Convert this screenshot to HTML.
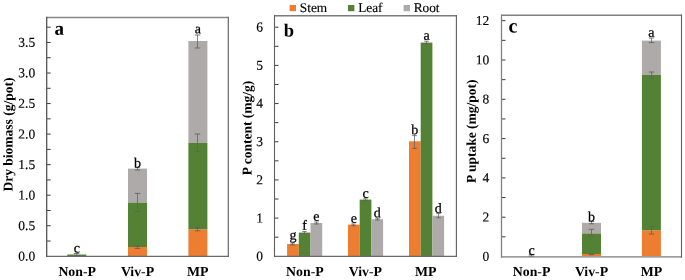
<!DOCTYPE html>
<html><head><meta charset="utf-8"><style>
html,body{margin:0;padding:0;background:#fff;width:685px;height:280px;overflow:hidden}
svg{display:block;will-change:transform}
text{font-family:"Liberation Serif",serif;fill:#000}
.tl{font-size:13.5px;fill:#000;stroke:#000;stroke-width:0.15px}
.pl{font-size:18px;font-weight:bold}
.sg{font-size:14px;fill:#000;stroke:#000;stroke-width:0.25px}
.xl{font-size:13.8px;font-weight:bold}
.yt{font-size:13.5px;font-weight:bold}
.lg{font-size:13.3px;fill:#000;stroke:#000;stroke-width:0.15px}
</style></head><body>
<svg width="685" height="280" viewBox="0 0 685 280">
<rect x="67.30" y="254.50" width="19.00" height="1.80" fill="#548235"/>
<rect x="128.00" y="247.00" width="19.00" height="9.30" fill="#ED7D31"/>
<rect x="128.00" y="202.40" width="19.00" height="44.60" fill="#548235"/>
<rect x="128.00" y="168.60" width="19.00" height="33.80" fill="#AEAAAA"/>
<rect x="188.40" y="229.30" width="19.00" height="27.00" fill="#ED7D31"/>
<rect x="188.40" y="143.00" width="19.00" height="86.30" fill="#548235"/>
<rect x="188.40" y="41.00" width="19.00" height="102.00" fill="#AEAAAA"/>
<line x1="46.70" y1="241.03" x2="50.70" y2="241.03" stroke="#3c3c3c" stroke-width="1.0"/>
<line x1="46.70" y1="225.75" x2="50.70" y2="225.75" stroke="#3c3c3c" stroke-width="1.0"/>
<line x1="46.70" y1="210.48" x2="50.70" y2="210.48" stroke="#3c3c3c" stroke-width="1.0"/>
<line x1="46.70" y1="195.20" x2="50.70" y2="195.20" stroke="#3c3c3c" stroke-width="1.0"/>
<line x1="46.70" y1="179.93" x2="50.70" y2="179.93" stroke="#3c3c3c" stroke-width="1.0"/>
<line x1="46.70" y1="164.65" x2="50.70" y2="164.65" stroke="#3c3c3c" stroke-width="1.0"/>
<line x1="46.70" y1="149.38" x2="50.70" y2="149.38" stroke="#3c3c3c" stroke-width="1.0"/>
<line x1="46.70" y1="134.10" x2="50.70" y2="134.10" stroke="#3c3c3c" stroke-width="1.0"/>
<line x1="46.70" y1="118.83" x2="50.70" y2="118.83" stroke="#3c3c3c" stroke-width="1.0"/>
<line x1="46.70" y1="103.55" x2="50.70" y2="103.55" stroke="#3c3c3c" stroke-width="1.0"/>
<line x1="46.70" y1="88.28" x2="50.70" y2="88.28" stroke="#3c3c3c" stroke-width="1.0"/>
<line x1="46.70" y1="73.00" x2="50.70" y2="73.00" stroke="#3c3c3c" stroke-width="1.0"/>
<line x1="46.70" y1="57.72" x2="50.70" y2="57.72" stroke="#3c3c3c" stroke-width="1.0"/>
<line x1="46.70" y1="42.45" x2="50.70" y2="42.45" stroke="#3c3c3c" stroke-width="1.0"/>
<line x1="46.70" y1="27.18" x2="50.70" y2="27.18" stroke="#3c3c3c" stroke-width="1.0"/>
<text x="35.20" y="260.60" text-anchor="end" class="tl" transform="rotate(0.05 35.20 260.60)">0.0</text>
<text x="35.20" y="230.05" text-anchor="end" class="tl" transform="rotate(0.05 35.20 230.05)">0.5</text>
<text x="35.20" y="199.50" text-anchor="end" class="tl" transform="rotate(0.05 35.20 199.50)">1.0</text>
<text x="35.20" y="168.95" text-anchor="end" class="tl" transform="rotate(0.05 35.20 168.95)">1.5</text>
<text x="35.20" y="138.40" text-anchor="end" class="tl" transform="rotate(0.05 35.20 138.40)">2.0</text>
<text x="35.20" y="107.85" text-anchor="end" class="tl" transform="rotate(0.05 35.20 107.85)">2.5</text>
<text x="35.20" y="77.30" text-anchor="end" class="tl" transform="rotate(0.05 35.20 77.30)">3.0</text>
<text x="35.20" y="46.75" text-anchor="end" class="tl" transform="rotate(0.05 35.20 46.75)">3.5</text>
<line x1="46.70" y1="17.60" x2="228.30" y2="17.60" stroke="#888" stroke-width="1.5"/>
<line x1="46.70" y1="256.40" x2="228.30" y2="256.40" stroke="#6a6a6a" stroke-width="1.2"/>
<line x1="46.70" y1="16.85" x2="46.70" y2="257.00" stroke="#555" stroke-width="1.3"/>
<line x1="228.30" y1="16.85" x2="228.30" y2="257.00" stroke="#666" stroke-width="1.2"/>
<line x1="76.50" y1="253.50" x2="76.50" y2="255.50" stroke="#606060" stroke-width="0.75"/>
<line x1="73.75" y1="253.50" x2="79.25" y2="253.50" stroke="#606060" stroke-width="0.85"/>
<line x1="73.75" y1="255.50" x2="79.25" y2="255.50" stroke="#606060" stroke-width="0.85"/>
<text x="76.80" y="252.60" text-anchor="middle" class="sg" transform="rotate(0.05 76.80 252.60)">c</text>
<line x1="137.50" y1="245.60" x2="137.50" y2="248.40" stroke="#606060" stroke-width="0.75"/>
<line x1="134.75" y1="245.60" x2="140.25" y2="245.60" stroke="#606060" stroke-width="0.85"/>
<line x1="134.75" y1="248.40" x2="140.25" y2="248.40" stroke="#606060" stroke-width="0.85"/>
<line x1="137.50" y1="193.40" x2="137.50" y2="211.60" stroke="#606060" stroke-width="0.75"/>
<line x1="134.75" y1="193.40" x2="140.25" y2="193.40" stroke="#606060" stroke-width="0.85"/>
<line x1="134.75" y1="211.60" x2="140.25" y2="211.60" stroke="#606060" stroke-width="0.85"/>
<line x1="137.50" y1="167.20" x2="137.50" y2="170.00" stroke="#606060" stroke-width="0.75"/>
<line x1="134.75" y1="167.20" x2="140.25" y2="167.20" stroke="#606060" stroke-width="0.85"/>
<line x1="134.75" y1="170.00" x2="140.25" y2="170.00" stroke="#606060" stroke-width="0.85"/>
<text x="137.50" y="167.40" text-anchor="middle" class="sg" transform="rotate(0.05 137.50 167.40)">b</text>
<line x1="197.50" y1="227.60" x2="197.50" y2="230.80" stroke="#606060" stroke-width="0.75"/>
<line x1="194.75" y1="227.60" x2="200.25" y2="227.60" stroke="#606060" stroke-width="0.85"/>
<line x1="194.75" y1="230.80" x2="200.25" y2="230.80" stroke="#606060" stroke-width="0.85"/>
<line x1="197.50" y1="134.00" x2="197.50" y2="151.40" stroke="#606060" stroke-width="0.75"/>
<line x1="194.75" y1="134.00" x2="200.25" y2="134.00" stroke="#606060" stroke-width="0.85"/>
<line x1="194.75" y1="151.40" x2="200.25" y2="151.40" stroke="#606060" stroke-width="0.85"/>
<line x1="197.50" y1="35.00" x2="197.50" y2="48.00" stroke="#606060" stroke-width="0.75"/>
<line x1="194.75" y1="35.00" x2="200.25" y2="35.00" stroke="#606060" stroke-width="0.85"/>
<line x1="194.75" y1="48.00" x2="200.25" y2="48.00" stroke="#606060" stroke-width="0.85"/>
<text x="197.90" y="33.20" text-anchor="middle" class="sg" transform="rotate(0.05 197.90 33.20)">a</text>
<text x="54.50" y="34.80" text-anchor="start" class="pl" transform="rotate(0.05 54.50 34.80)" style="font-size:19px">a</text>
<rect x="287.10" y="244.00" width="11.70" height="12.30" fill="#ED7D31"/>
<rect x="298.80" y="232.60" width="11.70" height="23.70" fill="#548235"/>
<rect x="310.50" y="223.00" width="11.70" height="33.30" fill="#AEAAAA"/>
<rect x="348.00" y="224.60" width="11.70" height="31.70" fill="#ED7D31"/>
<rect x="359.70" y="199.60" width="11.70" height="56.70" fill="#548235"/>
<rect x="371.40" y="219.20" width="11.70" height="37.10" fill="#AEAAAA"/>
<rect x="409.00" y="141.30" width="11.70" height="115.00" fill="#ED7D31"/>
<rect x="420.70" y="42.60" width="11.70" height="213.70" fill="#548235"/>
<rect x="432.40" y="215.80" width="11.70" height="40.50" fill="#AEAAAA"/>
<line x1="274.50" y1="237.21" x2="278.50" y2="237.21" stroke="#3c3c3c" stroke-width="1.0"/>
<line x1="274.50" y1="218.12" x2="278.50" y2="218.12" stroke="#3c3c3c" stroke-width="1.0"/>
<line x1="274.50" y1="199.03" x2="278.50" y2="199.03" stroke="#3c3c3c" stroke-width="1.0"/>
<line x1="274.50" y1="179.93" x2="278.50" y2="179.93" stroke="#3c3c3c" stroke-width="1.0"/>
<line x1="274.50" y1="160.84" x2="278.50" y2="160.84" stroke="#3c3c3c" stroke-width="1.0"/>
<line x1="274.50" y1="141.75" x2="278.50" y2="141.75" stroke="#3c3c3c" stroke-width="1.0"/>
<line x1="274.50" y1="122.66" x2="278.50" y2="122.66" stroke="#3c3c3c" stroke-width="1.0"/>
<line x1="274.50" y1="103.57" x2="278.50" y2="103.57" stroke="#3c3c3c" stroke-width="1.0"/>
<line x1="274.50" y1="84.47" x2="278.50" y2="84.47" stroke="#3c3c3c" stroke-width="1.0"/>
<line x1="274.50" y1="65.38" x2="278.50" y2="65.38" stroke="#3c3c3c" stroke-width="1.0"/>
<line x1="274.50" y1="46.29" x2="278.50" y2="46.29" stroke="#3c3c3c" stroke-width="1.0"/>
<line x1="274.50" y1="27.20" x2="278.50" y2="27.20" stroke="#3c3c3c" stroke-width="1.0"/>
<text x="263.00" y="260.60" text-anchor="end" class="tl" transform="rotate(0.05 263.00 260.60)">0</text>
<text x="263.00" y="222.42" text-anchor="end" class="tl" transform="rotate(0.05 263.00 222.42)">1</text>
<text x="263.00" y="184.23" text-anchor="end" class="tl" transform="rotate(0.05 263.00 184.23)">2</text>
<text x="263.00" y="146.05" text-anchor="end" class="tl" transform="rotate(0.05 263.00 146.05)">3</text>
<text x="263.00" y="107.87" text-anchor="end" class="tl" transform="rotate(0.05 263.00 107.87)">4</text>
<text x="263.00" y="69.68" text-anchor="end" class="tl" transform="rotate(0.05 263.00 69.68)">5</text>
<text x="263.00" y="31.50" text-anchor="end" class="tl" transform="rotate(0.05 263.00 31.50)">6</text>
<line x1="274.50" y1="15.80" x2="456.40" y2="15.80" stroke="#7a7a7a" stroke-width="1.6"/>
<line x1="274.50" y1="256.40" x2="456.40" y2="256.40" stroke="#6a6a6a" stroke-width="1.2"/>
<line x1="274.50" y1="15.00" x2="274.50" y2="257.00" stroke="#5e5e5e" stroke-width="1.1"/>
<line x1="456.40" y1="15.00" x2="456.40" y2="257.00" stroke="#5e5e5e" stroke-width="1.1"/>
<line x1="292.50" y1="243.00" x2="292.50" y2="245.00" stroke="#606060" stroke-width="0.75"/>
<line x1="290.25" y1="243.00" x2="294.75" y2="243.00" stroke="#606060" stroke-width="0.85"/>
<line x1="290.25" y1="245.00" x2="294.75" y2="245.00" stroke="#606060" stroke-width="0.85"/>
<text x="292.95" y="239.60" text-anchor="middle" class="sg" transform="rotate(0.05 292.95 239.60)">g</text>
<line x1="304.50" y1="231.60" x2="304.50" y2="233.60" stroke="#606060" stroke-width="0.75"/>
<line x1="302.25" y1="231.60" x2="306.75" y2="231.60" stroke="#606060" stroke-width="0.85"/>
<line x1="302.25" y1="233.60" x2="306.75" y2="233.60" stroke="#606060" stroke-width="0.85"/>
<text x="304.65" y="229.70" text-anchor="middle" class="sg" transform="rotate(0.05 304.65 229.70)">f</text>
<line x1="316.50" y1="222.00" x2="316.50" y2="224.00" stroke="#606060" stroke-width="0.75"/>
<line x1="314.25" y1="222.00" x2="318.75" y2="222.00" stroke="#606060" stroke-width="0.85"/>
<line x1="314.25" y1="224.00" x2="318.75" y2="224.00" stroke="#606060" stroke-width="0.85"/>
<text x="316.35" y="220.80" text-anchor="middle" class="sg" transform="rotate(0.05 316.35 220.80)">e</text>
<line x1="353.50" y1="224.00" x2="353.50" y2="225.80" stroke="#606060" stroke-width="0.75"/>
<line x1="351.25" y1="224.00" x2="355.75" y2="224.00" stroke="#606060" stroke-width="0.85"/>
<line x1="351.25" y1="225.80" x2="355.75" y2="225.80" stroke="#606060" stroke-width="0.85"/>
<text x="353.85" y="222.70" text-anchor="middle" class="sg" transform="rotate(0.05 353.85 222.70)">e</text>
<line x1="365.50" y1="198.80" x2="365.50" y2="200.60" stroke="#606060" stroke-width="0.75"/>
<line x1="363.25" y1="198.80" x2="367.75" y2="198.80" stroke="#606060" stroke-width="0.85"/>
<line x1="363.25" y1="200.60" x2="367.75" y2="200.60" stroke="#606060" stroke-width="0.85"/>
<text x="365.55" y="197.70" text-anchor="middle" class="sg" transform="rotate(0.05 365.55 197.70)">c</text>
<line x1="377.50" y1="218.20" x2="377.50" y2="220.00" stroke="#606060" stroke-width="0.75"/>
<line x1="375.25" y1="218.20" x2="379.75" y2="218.20" stroke="#606060" stroke-width="0.85"/>
<line x1="375.25" y1="220.00" x2="379.75" y2="220.00" stroke="#606060" stroke-width="0.85"/>
<text x="377.25" y="217.20" text-anchor="middle" class="sg" transform="rotate(0.05 377.25 217.20)">d</text>
<line x1="414.50" y1="135.60" x2="414.50" y2="148.40" stroke="#606060" stroke-width="0.75"/>
<line x1="412.25" y1="135.60" x2="416.75" y2="135.60" stroke="#606060" stroke-width="0.85"/>
<line x1="412.25" y1="148.40" x2="416.75" y2="148.40" stroke="#606060" stroke-width="0.85"/>
<text x="414.85" y="134.20" text-anchor="middle" class="sg" transform="rotate(0.05 414.85 134.20)">b</text>
<line x1="426.50" y1="41.20" x2="426.50" y2="44.00" stroke="#606060" stroke-width="0.75"/>
<line x1="424.25" y1="41.20" x2="428.75" y2="41.20" stroke="#606060" stroke-width="0.85"/>
<line x1="424.25" y1="44.00" x2="428.75" y2="44.00" stroke="#606060" stroke-width="0.85"/>
<text x="426.55" y="39.80" text-anchor="middle" class="sg" transform="rotate(0.05 426.55 39.80)">a</text>
<line x1="438.50" y1="213.60" x2="438.50" y2="217.80" stroke="#606060" stroke-width="0.75"/>
<line x1="436.25" y1="213.60" x2="440.75" y2="213.60" stroke="#606060" stroke-width="0.85"/>
<line x1="436.25" y1="217.80" x2="440.75" y2="217.80" stroke="#606060" stroke-width="0.85"/>
<text x="438.25" y="212.80" text-anchor="middle" class="sg" transform="rotate(0.05 438.25 212.80)">d</text>
<text x="283.80" y="36.60" text-anchor="start" class="pl" transform="rotate(0.05 283.80 36.60)" style="font-size:18.5px">b</text>
<rect x="582.00" y="254.00" width="19.00" height="2.50" fill="#ED7D31"/>
<rect x="582.00" y="233.30" width="19.00" height="20.70" fill="#548235"/>
<rect x="582.00" y="222.80" width="19.00" height="10.50" fill="#AEAAAA"/>
<rect x="641.90" y="230.40" width="19.00" height="26.10" fill="#ED7D31"/>
<rect x="641.90" y="75.00" width="19.00" height="155.40" fill="#548235"/>
<rect x="641.90" y="40.60" width="19.00" height="34.40" fill="#AEAAAA"/>
<line x1="501.50" y1="236.85" x2="505.50" y2="236.85" stroke="#3c3c3c" stroke-width="1.0"/>
<line x1="501.50" y1="217.20" x2="505.50" y2="217.20" stroke="#3c3c3c" stroke-width="1.0"/>
<line x1="501.50" y1="197.55" x2="505.50" y2="197.55" stroke="#3c3c3c" stroke-width="1.0"/>
<line x1="501.50" y1="177.90" x2="505.50" y2="177.90" stroke="#3c3c3c" stroke-width="1.0"/>
<line x1="501.50" y1="158.25" x2="505.50" y2="158.25" stroke="#3c3c3c" stroke-width="1.0"/>
<line x1="501.50" y1="138.60" x2="505.50" y2="138.60" stroke="#3c3c3c" stroke-width="1.0"/>
<line x1="501.50" y1="118.95" x2="505.50" y2="118.95" stroke="#3c3c3c" stroke-width="1.0"/>
<line x1="501.50" y1="99.30" x2="505.50" y2="99.30" stroke="#3c3c3c" stroke-width="1.0"/>
<line x1="501.50" y1="79.65" x2="505.50" y2="79.65" stroke="#3c3c3c" stroke-width="1.0"/>
<line x1="501.50" y1="60.00" x2="505.50" y2="60.00" stroke="#3c3c3c" stroke-width="1.0"/>
<line x1="501.50" y1="40.35" x2="505.50" y2="40.35" stroke="#3c3c3c" stroke-width="1.0"/>
<line x1="501.50" y1="20.70" x2="505.50" y2="20.70" stroke="#3c3c3c" stroke-width="1.0"/>
<text x="489.30" y="260.80" text-anchor="end" class="tl" transform="rotate(0.05 489.30 260.80)">0</text>
<text x="489.30" y="221.50" text-anchor="end" class="tl" transform="rotate(0.05 489.30 221.50)">2</text>
<text x="489.30" y="182.20" text-anchor="end" class="tl" transform="rotate(0.05 489.30 182.20)">4</text>
<text x="489.30" y="142.90" text-anchor="end" class="tl" transform="rotate(0.05 489.30 142.90)">6</text>
<text x="489.30" y="103.60" text-anchor="end" class="tl" transform="rotate(0.05 489.30 103.60)">8</text>
<text x="489.30" y="64.30" text-anchor="end" class="tl" transform="rotate(0.05 489.30 64.30)">10</text>
<text x="489.30" y="25.00" text-anchor="end" class="tl" transform="rotate(0.05 489.30 25.00)">12</text>
<line x1="501.50" y1="15.30" x2="681.50" y2="15.30" stroke="#808080" stroke-width="1.6"/>
<line x1="501.50" y1="256.90" x2="681.50" y2="256.90" stroke="#a0a0a0" stroke-width="1.8"/>
<line x1="501.50" y1="14.50" x2="501.50" y2="257.80" stroke="#808080" stroke-width="1.3"/>
<line x1="681.50" y1="14.50" x2="681.50" y2="257.80" stroke="#5e5e5e" stroke-width="1.1"/>
<line x1="531.50" y1="254.60" x2="531.50" y2="256.00" stroke="#606060" stroke-width="0.75"/>
<line x1="528.75" y1="254.60" x2="534.25" y2="254.60" stroke="#606060" stroke-width="0.85"/>
<line x1="528.75" y1="256.00" x2="534.25" y2="256.00" stroke="#606060" stroke-width="0.85"/>
<text x="531.60" y="254.80" text-anchor="middle" class="sg" transform="rotate(0.05 531.60 254.80)">c</text>
<line x1="591.50" y1="253.90" x2="591.50" y2="254.70" stroke="#606060" stroke-width="0.75"/>
<line x1="588.75" y1="253.90" x2="594.25" y2="253.90" stroke="#606060" stroke-width="0.85"/>
<line x1="588.75" y1="254.70" x2="594.25" y2="254.70" stroke="#606060" stroke-width="0.85"/>
<line x1="591.50" y1="229.30" x2="591.50" y2="236.00" stroke="#606060" stroke-width="0.75"/>
<line x1="588.75" y1="229.30" x2="594.25" y2="229.30" stroke="#606060" stroke-width="0.85"/>
<line x1="588.75" y1="236.00" x2="594.25" y2="236.00" stroke="#606060" stroke-width="0.85"/>
<line x1="591.50" y1="221.40" x2="591.50" y2="223.80" stroke="#606060" stroke-width="0.75"/>
<line x1="588.75" y1="221.40" x2="594.25" y2="221.40" stroke="#606060" stroke-width="0.85"/>
<line x1="588.75" y1="223.80" x2="594.25" y2="223.80" stroke="#606060" stroke-width="0.85"/>
<text x="591.50" y="221.30" text-anchor="middle" class="sg" transform="rotate(0.05 591.50 221.30)">b</text>
<line x1="651.50" y1="226.60" x2="651.50" y2="234.00" stroke="#606060" stroke-width="0.75"/>
<line x1="648.75" y1="226.60" x2="654.25" y2="226.60" stroke="#606060" stroke-width="0.85"/>
<line x1="648.75" y1="234.00" x2="654.25" y2="234.00" stroke="#606060" stroke-width="0.85"/>
<line x1="651.50" y1="72.00" x2="651.50" y2="78.40" stroke="#606060" stroke-width="0.75"/>
<line x1="648.75" y1="72.00" x2="654.25" y2="72.00" stroke="#606060" stroke-width="0.85"/>
<line x1="648.75" y1="78.40" x2="654.25" y2="78.40" stroke="#606060" stroke-width="0.85"/>
<line x1="651.50" y1="38.00" x2="651.50" y2="42.60" stroke="#606060" stroke-width="0.75"/>
<line x1="648.75" y1="38.00" x2="654.25" y2="38.00" stroke="#606060" stroke-width="0.85"/>
<line x1="648.75" y1="42.60" x2="654.25" y2="42.60" stroke="#606060" stroke-width="0.85"/>
<text x="651.40" y="36.80" text-anchor="middle" class="sg" transform="rotate(0.05 651.40 36.80)">a</text>
<text x="508.60" y="32.60" text-anchor="start" class="pl" transform="rotate(0.05 508.60 32.60)" style="font-size:20px">c</text>
<text x="77.20" y="276.00" text-anchor="middle" class="xl" transform="rotate(0.05 77.20 276.00)">Non-P</text>
<text x="137.50" y="276.00" text-anchor="middle" class="xl" transform="rotate(0.05 137.50 276.00)">Viv-P</text>
<text x="197.80" y="276.00" text-anchor="middle" class="xl" transform="rotate(0.05 197.80 276.00)">MP</text>
<text x="304.90" y="276.00" text-anchor="middle" class="xl" transform="rotate(0.05 304.90 276.00)">Non-P</text>
<text x="365.40" y="276.00" text-anchor="middle" class="xl" transform="rotate(0.05 365.40 276.00)">Viv-P</text>
<text x="425.80" y="276.00" text-anchor="middle" class="xl" transform="rotate(0.05 425.80 276.00)">MP</text>
<text x="531.60" y="276.00" text-anchor="middle" class="xl" transform="rotate(0.05 531.60 276.00)">Non-P</text>
<text x="591.50" y="276.00" text-anchor="middle" class="xl" transform="rotate(0.05 591.50 276.00)">Viv-P</text>
<text x="651.40" y="276.00" text-anchor="middle" class="xl" transform="rotate(0.05 651.40 276.00)">MP</text>
<text transform="translate(12.6,134.6) rotate(-89.95)" text-anchor="middle" class="yt">Dry biomass (g/pot)</text>
<text transform="translate(251.6,128) rotate(-89.95)" text-anchor="middle" class="yt">P content (mg/g)</text>
<text transform="translate(475.8,131.2) rotate(-89.95)" text-anchor="middle" class="yt">P uptake (mg/pot)</text>
<rect x="289.6" y="5" width="6.4" height="6.2" fill="#ED7D31"/>
<text x="299.80" y="12.00" text-anchor="start" class="lg" transform="rotate(0.05 299.80 12.00)">Stem</text>
<rect x="348" y="5" width="6.4" height="6.2" fill="#548235"/>
<text x="358.20" y="12.00" text-anchor="start" class="lg" transform="rotate(0.05 358.20 12.00)">Leaf</text>
<rect x="403.6" y="5" width="6.4" height="6.2" fill="#AEAAAA"/>
<text x="413.70" y="12.00" text-anchor="start" class="lg" transform="rotate(0.05 413.70 12.00)">Root</text>
</svg>
</body></html>
